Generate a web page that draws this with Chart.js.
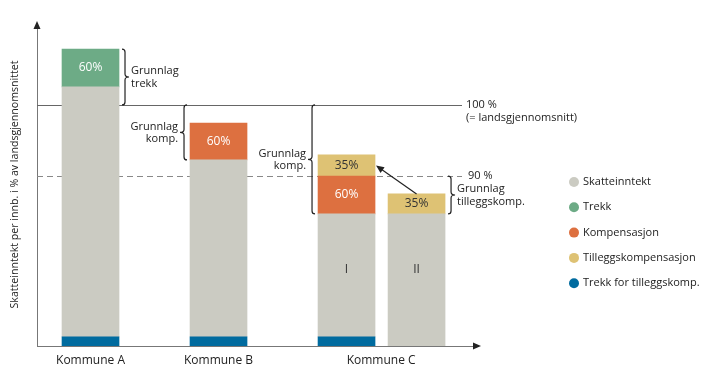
<!DOCTYPE html>
<html>
<head>
<meta charset="utf-8">
<script src="https://cdn.jsdelivr.net/npm/chart.js@4.4.1/dist/chart.umd.min.js"></script>
<style>
html, body { margin: 0; padding: 0; background: #fff; }
#wrap { width: 719px; height: 383px; }
</style>
</head>
<body>
<div id="wrap"><canvas id="chart" width="719" height="383"></canvas></div>
<script>
// schematic units: 100 = landsgjennomsnitt
var categories = ['Kommune A', 'Kommune B', 'Kommune C'];
var categoryPos = [1, 2, 3.27];
var barPos = [1, 2, 3, 3.547];

var trekkTillegg = [3.8, 3.8, 3.8, 0];
var skatteinntekt = [103.7, 73.4, 51.0, 54.8];
var trekk = [15.7, 0, 0, 0];
var kompensasjon = [0, 15.3, 15.7, 0];
var tilleggskomp = [0, 0, 8.8, 8.3];

var trekkText = ['60%', '', '', ''];
var kompText = ['', '60%', '60%', ''];
var tilleggText = ['', '', '35%', '35%'];
var barNames = ['', '', 'I', 'II'];

var refValues = [100, 70.5];
var refLabels = [['100 %', '(= landsgjennomsnitt)'], ['90 %']];

var bracketText = [['Grunnlag', 'trekk'], ['Grunnlag', 'komp.'], ['Grunnlag', 'komp.'], ['Grunnlag', 'tilleggskomp.']];

var FONT = "'Open Sans', sans-serif";

function pts(arr) {
    return arr.map(function(v, i) { return { x: barPos[i], y: v ? v : null }; });
}

function txt(ctx, s, x, y, align, color, size) {
    ctx.font = (size || 11) + 'px ' + FONT;
    ctx.fillStyle = color || '#222';
    ctx.textAlign = align || 'left';
    ctx.textBaseline = 'middle';
    ctx.fillText(s, x, y);
}

// curly brace, dir = 1 -> tip points right
function brace(ctx, x, y1, y2, dir) {
    var ym = (y1 + y2) / 2;
    ctx.beginPath();
    ctx.moveTo(x - dir * 3, y1);
    ctx.quadraticCurveTo(x, y1, x, y1 + 3);
    ctx.lineTo(x, ym - 3);
    ctx.quadraticCurveTo(x, ym, x + dir * 4, ym);
    ctx.quadraticCurveTo(x, ym, x, ym + 3);
    ctx.lineTo(x, y2 - 3);
    ctx.quadraticCurveTo(x, y2, x - dir * 3, y2);
    ctx.strokeStyle = '#222';
    ctx.lineWidth = 1.2;
    ctx.stroke();
}

var data = {
    datasets: [
        { label: 'Trekk for tilleggskomp.', data: pts(trekkTillegg), backgroundColor: '#006B9F' },
        { label: 'Skatteinntekt', data: pts(skatteinntekt), backgroundColor: '#CBCBC2' },
        { label: 'Trekk', data: pts(trekk), backgroundColor: '#6DAB86' },
        { label: 'Kompensasjon', data: pts(kompensasjon), backgroundColor: '#DD7040' },
        { label: 'Tilleggskompensasjon', data: pts(tilleggskomp), backgroundColor: '#DEC274' }
    ]
};
var legendOrder = [1, 2, 3, 4, 0];

var annotations = {
    id: 'annotations',
    beforeDatasetsDraw: function(chart) {
        var ctx = chart.ctx, y = chart.scales.y, area = chart.chartArea;
        ctx.save();
        for (var i = 0; i < refValues.length; i++) {
            var py = Math.round(y.getPixelForValue(refValues[i])) + 0.5;
            ctx.beginPath();
            ctx.setLineDash(i == 0 ? [] : [6, 4]);
            ctx.strokeStyle = i == 0 ? '#666' : '#888';
            ctx.lineWidth = 1;
            ctx.moveTo(area.left, py);
            ctx.lineTo(area.right - 16, py);
            ctx.stroke();
            for (var k = 0; k < refLabels[i].length; k++) {
                txt(ctx, refLabels[i][k], area.right - 12 + i * 2, py - 1 + k * 13);
            }
        }
        ctx.restore();
    },
    afterDraw: function(chart) {
        var ctx = chart.ctx, y = chart.scales.y, area = chart.chartArea;
        var m = function(ds) { return chart.getDatasetMeta(ds).data; };
        ctx.save();

        // axis arrows
        ctx.fillStyle = '#222';
        ctx.beginPath();
        ctx.moveTo(area.left, area.top - 2);
        ctx.lineTo(area.left - 3.5, area.top + 6);
        ctx.lineTo(area.left + 3.5, area.top + 6);
        ctx.fill();
        ctx.beginPath();
        ctx.moveTo(area.right + 3, area.bottom);
        ctx.lineTo(area.right - 5, area.bottom - 3.5);
        ctx.lineTo(area.right - 5, area.bottom + 3.5);
        ctx.fill();

        // texts in bars
        var texts = [[2, trekkText, '#fff'], [3, kompText, '#fff'], [4, tilleggText, '#333']];
        texts.forEach(function(t) {
            m(t[0]).forEach(function(el, j) {
                if (t[1][j]) txt(ctx, t[1][j], el.x, (el.y + el.base) / 2, 'center', t[2], 12);
            });
        });
        m(1).forEach(function(el, j) {
            if (barNames[j]) txt(ctx, barNames[j], el.x, (el.y + area.bottom) / 2 - 10, 'center', '#333', 12);
        });

        // brackets
        var top = function(j) {
            var best = area.bottom;
            chart.data.datasets.forEach(function(d, i) {
                var py = m(i)[j].y;
                if (d.data[j].y != null && !isNaN(py)) best = Math.min(best, py);
            });
            return best;
        };
        var ref0 = y.getPixelForValue(refValues[0]), ref1 = y.getPixelForValue(refValues[1]);
        var specs = [
            [0, top(0), ref0, 1],
            [1, ref0, m(1)[1].y, -1],
            [2, ref0, m(1)[2].y, -1],
            [3, ref1, m(1)[3].y, 1]
        ];
        specs.forEach(function(s, i) {
            var el = m(1)[s[0]];
            var bx = s[3] > 0 ? el.x + el.width / 2 + 6 : el.x - el.width / 2 - 6;
            brace(ctx, bx, s[1], s[2], s[3]);
            var mid = (s[1] + s[2]) / 2;
            var lines = bracketText[i];
            for (var k = 0; k < lines.length; k++) {
                txt(ctx, lines[k], bx + s[3] * 6, mid - 6 + k * 12.5, s[3] > 0 ? 'left' : 'right', '#222', 11);
            }
        });

        // arrow from C II to C I
        var a = m(4)[3], b = m(4)[2];
        var x1 = a.x, y1 = a.y, x2 = b.x + b.width / 2 + 1, y2 = (b.y + b.base) / 2;
        var ang = Math.atan2(y2 - y1, x2 - x1);
        ctx.beginPath();
        ctx.moveTo(x1, y1);
        ctx.lineTo(x2 - 6 * Math.cos(ang), y2 - 6 * Math.sin(ang));
        ctx.strokeStyle = '#222';
        ctx.lineWidth = 1.2;
        ctx.stroke();
        ctx.beginPath();
        ctx.moveTo(x2, y2);
        ctx.lineTo(x2 - 8 * Math.cos(ang) + 3.5 * Math.sin(ang), y2 - 8 * Math.sin(ang) - 3.5 * Math.cos(ang));
        ctx.lineTo(x2 - 8 * Math.cos(ang) - 3.5 * Math.sin(ang), y2 - 8 * Math.sin(ang) + 3.5 * Math.cos(ang));
        ctx.fill();

        // legend
        var lx = area.right + 96, ly = 182;
        legendOrder.forEach(function(i, k) {
            var d = chart.data.datasets[i];
            ctx.beginPath();
            ctx.arc(lx, ly + k * 25.3, 5, 0, Math.PI * 2);
            ctx.fillStyle = d.backgroundColor;
            ctx.fill();
            txt(ctx, d.label, lx + 9, ly + k * 25.3, 'left', '#222', 11);
        });
        ctx.restore();
    }
};

new Chart(document.getElementById('chart'), {
    type: 'bar',
    data: data,
    plugins: [annotations],
    options: {
        responsive: false,
        animation: false,
        devicePixelRatio: 1,
        layout: { padding: { top: 23, right: 241, bottom: 0, left: 0 } },
        font: { family: FONT },
        datasets: { bar: { barThickness: 57, borderWidth: 0 } },
        plugins: { legend: { display: false }, tooltip: { enabled: false } },
        scales: {
            x: {
                type: 'linear',
                stacked: true,
                min: 0.582,
                max: 4.027,
                offset: false,
                grid: { display: false, drawTicks: false },
                border: { display: true, color: '#777', width: 1 },
                afterBuildTicks: function(s) {
                    s.ticks = categoryPos.map(function(v) { return { value: v }; });
                },
                afterFit: function(s) { s.height = 37; },
                ticks: {
                    autoSkip: false,
                    maxRotation: 0,
                    padding: 7,
                    color: '#222',
                    font: { family: FONT, size: 12 },
                    callback: function(v, i) { return categories[i]; }
                }
            },
            y: {
                stacked: true,
                min: 0,
                max: 134,
                grid: { display: false, drawTicks: false },
                border: { display: true, color: '#777', width: 1 },
                ticks: { display: false },
                afterFit: function(s) { s.width = 37; },
                title: {
                    display: true,
                    text: 'Skatteinntekt per innb. i % av landsgjennomsnittet',
                    color: '#222',
                    font: { family: FONT, size: 10.6 },
                    padding: { top: 9, bottom: 0 }
                }
            }
        }
    }
});
</script>
</body>
</html>
